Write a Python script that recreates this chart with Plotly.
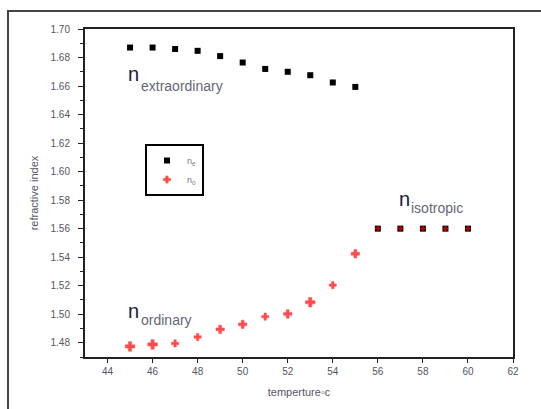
import plotly.graph_objects as go

# data
temp_e = [45, 46, 47, 48, 49, 50, 51, 52, 53, 54, 55, 56, 57, 58, 59, 60]
n_e = [1.687, 1.687, 1.686, 1.6847, 1.681, 1.6765, 1.672, 1.670, 1.6676, 1.6625, 1.6594,
       1.560, 1.560, 1.560, 1.560, 1.560]
temp_o = [45, 46, 47, 48, 49, 50, 51, 52, 53, 54, 55, 56, 57, 58, 59, 60]
n_o = [1.4774, 1.4788, 1.4795, 1.484, 1.4894, 1.4929, 1.4983, 1.5002, 1.5084, 1.5204, 1.5424,
       1.560, 1.560, 1.560, 1.560, 1.560]
y_ticks = [1.48, 1.50, 1.52, 1.54, 1.56, 1.58, 1.60, 1.62, 1.64, 1.66, 1.68, 1.70]
x_ticks = [44, 46, 48, 50, 52, 54, 56, 58, 60, 62]

o_sizes = [8, 8, 6, 6, 7, 7, 6, 7, 8, 6, 7, 4, 4, 4, 4, 4]

W, H = 541, 409
L, R, T, B = 85, 28, 29, 52
pw, ph = W - L - R, H - T - B

fig = go.Figure()
fig.add_trace(go.Scatter(x=temp_e, y=n_e, mode="markers", name="n<sub>e</sub>",
                         marker=dict(symbol="square", size=6, color="black")))
fig.add_trace(go.Scatter(x=temp_o, y=n_o, mode="markers", name="n<sub>o</sub>",
                         marker=dict(symbol="cross", size=o_sizes, color="#ff0000",
                                     line=dict(width=0.5, color="#ff0000"))))

def px(x):
    return (x - L) / pw

def py(y):
    return (H - B - y) / ph

big = dict(family="Liberation Sans, Arial", size=20, color="#1a1a40")
small = dict(family="Liberation Sans, Arial", size=14, color="#666677")
annos = [
    ("n", 126, 74, big), ("extraordinary", 139, 86, small),
    ("n", 126, 311, big), ("ordinary", 139, 320, small),
    ("n", 397, 199, big), ("isotropic", 409, 208, small),
]
ann = []
for t, x, y, f in annos:
    ann.append(dict(text=t, xref="paper", yref="paper", x=px(x), y=py(y),
                    xanchor="left", yanchor="middle", showarrow=False, font=f))

fig.update_layout(
    width=W, height=H,
    margin=dict(l=L, r=R, t=T, b=B),
    paper_bgcolor="white", plot_bgcolor="white",
    font=dict(family="Liberation Sans, Arial", size=10, color="#555566"),
    showlegend=True,
    legend=dict(x=px(145), y=py(144), xanchor="left", yanchor="top",
                bordercolor="black", borderwidth=2, bgcolor="white",
                font=dict(size=9, color="#777788"), itemwidth=30,
                tracegroupgap=2),
    annotations=ann,
    shapes=[dict(type="rect", xref="paper", yref="paper",
                 x0=px(8), x1=px(560), y0=py(430), y1=py(11),
                 line=dict(color="#444444", width=2), layer="below")],
    xaxis=dict(range=[43, 62], tickvals=x_ticks, ticktext=[str(v) for v in x_ticks],
               showgrid=False, zeroline=False, showline=True, mirror=True,
               linecolor="#222222", linewidth=2, ticks="outside", ticklen=4,
               tickcolor="#222222", tickfont=dict(size=10),
               title=dict(text="temperture◦c", font=dict(size=11, color="#555566"),
                          standoff=12)),
    yaxis=dict(range=[1.47, 1.70], tickvals=y_ticks,
               ticktext=[f"{v:.2f}" for v in y_ticks],
               showgrid=False, zeroline=False, showline=True, mirror=True,
               linecolor="#222222", linewidth=2, ticks="outside", ticklen=5,
               tickcolor="#222222", tickfont=dict(size=10), ticklabelstandoff=6,
               minor=dict(ticks="outside", ticklen=3, dtick=0.01, tick0=1.47,
                          tickcolor="#222222"),
               title=dict(text="refractive index", font=dict(size=11, color="#555566"),
                          standoff=10)),
)

fig.write_html("out.html")
